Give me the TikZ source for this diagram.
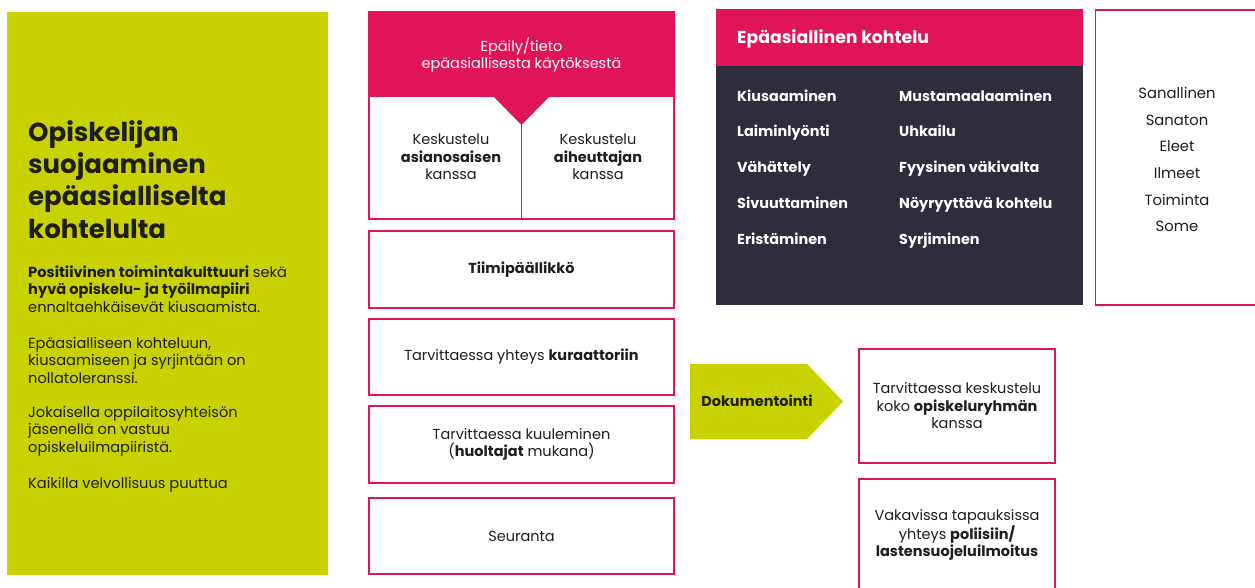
\documentclass[tikz,border=0pt]{standalone}
\usepackage{fontspec}
\setmainfont{Poppins}
\definecolor{lime}{HTML}{C9D200}
\definecolor{rose}{HTML}{DF1459}
\definecolor{navy}{HTML}{2E2D3C}
\definecolor{ink}{HTML}{1E1E1E}
\tikzset{
  frame/.style={draw=rose, line width=1.8pt, fill=white, inner sep=0pt},
  txt/.style={font=\fontsize{14.5}{17.5}\selectfont, align=center, inner sep=0pt, text=ink},
  lefttxt/.style={font=\fontsize{14.6}{17.6}\selectfont, align=left, inner sep=0pt, text=ink, anchor=west},
  item/.style={font=\bfseries\fontsize{14.4}{16}\selectfont, text=white, inner sep=0pt, anchor=base west},
  kind/.style={font=\fontsize{14.8}{16}\selectfont, text=ink, inner sep=0pt, anchor=base},
}
\begin{document}
\begin{tikzpicture}[x=1pt,y=-1pt]
\useasboundingbox[fill=white] (0,0) rectangle (1255,588);
% left panel
\fill[lime] (7,12) rectangle (328,575);
\node[font=\bfseries\fontsize{26}{32.3}\selectfont, align=left, inner sep=0pt, anchor=west, text=ink] (title) at (28,179.5)
  {Opiskelijan\\suojaaminen\\epäasialliselta\\kohtelulta};
\node[lefttxt] (p1) at (28,289) {\textbf{Positiivinen toimintakulttuuri} sekä\\\textbf{hyvä opiskelu- ja työilmapiiri}\\ennaltaehkäisevät kiusaamista.};
\node[lefttxt] (p2) at (28,360.5) {Epäasialliseen kohteluun,\\kiusaamiseen ja syrjintään on\\nollatoleranssi.};
\node[lefttxt] (p3) at (28,431) {Jokaisella oppilaitosyhteisön\\jäsenellä on vastuu\\opiskeluilmapiiristä.};
\node[lefttxt] (p4) at (28,485) {Kaikilla velvollisuus puuttua};
% top middle box
\fill[rose] (369,12) -- (674,12) -- (674,97) -- (549,97) -- (521.5,125) -- (494,97) -- (369,97) -- cycle;
\draw[rose, line width=1.8pt] (369,12) rectangle (674,219);
\draw[rose, line width=1.5pt] (521.5,125) -- (521.5,219);
\node[txt, text=white] (head) at (521.5,55) {Epäily/tieto\\epäasiallisesta käytöksestä};
\node[txt] (k1) at (451,157) {Keskustelu\\\textbf{asianosaisen}\\kanssa};
\node[txt] (k2) at (598,157) {Keskustelu\\\textbf{aiheuttajan}\\kanssa};
% middle column boxes
\node[frame, txt, minimum width=305pt, minimum height=77pt] (b2) at (521.5,269.5) {\textbf{Tiimipäällikkö}};
\node[frame, txt, minimum width=305pt, minimum height=76pt] (b3) at (521.5,357) {Tarvittaessa yhteys \textbf{kuraattoriin}};
\node[frame, txt, minimum width=305pt, minimum height=77pt] (b4) at (521.5,444.5) {Tarvittaessa kuuleminen\\(\textbf{huoltajat} mukana)};
\node[frame, txt, minimum width=305pt, minimum height=76pt] (b5) at (521.5,536) {Seuranta};
% dark box
\fill[navy] (716,9) rectangle (1083,305);
\fill[rose] (716,9) rectangle (1083,66);
\node[font=\bfseries\fontsize{17.3}{18}\selectfont, text=white, inner sep=0pt, anchor=base west] (ehead) at (737,44) {Epäasiallinen kohtelu};
\node[item] (i1) at (737,102) {Kiusaaminen};
\node[item] (i2) at (737,137) {Laiminlyönti};
\node[item] (i3) at (737,173) {Vähättely};
\node[item] (i4) at (737,208) {Sivuuttaminen};
\node[item] (i5) at (737,244) {Eristäminen};
\node[item] (j1) at (899,102) {Mustamaalaaminen};
\node[item] (j2) at (899,137) {Uhkailu};
\node[item] (j3) at (899,173) {Fyysinen väkivalta};
\node[item] (j4) at (899,208) {Nöyryyttävä kohtelu};
\node[item] (j5) at (899,244) {Syrjiminen};
% right box
\draw[rose, line width=1.8pt] (1262,10) -- (1095.5,10) -- (1095.5,305) -- (1262,305);
\node[kind] (s1) at (1177,99) {Sanallinen};
\node[kind] (s2) at (1177,125.5) {Sanaton};
\node[kind] (s3) at (1177,152) {Eleet};
\node[kind] (s4) at (1177,178.5) {Ilmeet};
\node[kind] (s5) at (1177,205) {Toiminta};
\node[kind] (s6) at (1177,232) {Some};
% documentation arrow
\fill[lime] (690,364) -- (807,364) -- (843,401.5) -- (807,439) -- (690,439) -- cycle;
\node[font=\bfseries\fontsize{14.4}{16}\selectfont, text=ink, inner sep=0pt, anchor=base] (doc) at (757,406) {Dokumentointi};
% right lower boxes
\node[frame, txt, minimum width=196pt, minimum height=114pt] (ba) at (957,406) {Tarvittaessa keskustelu\\koko \textbf{opiskeluryhmän}\\kanssa};
\draw[rose, line width=1.8pt] (859,595) -- (859,479) -- (1055,479) -- (1055,595);
\node[txt] (bb) at (957,535) {Vakavissa tapauksissa\\yhteys \textbf{poliisiin/}\\\textbf{lastensuojeluilmoitus}};
\end{tikzpicture}
\end{document}
